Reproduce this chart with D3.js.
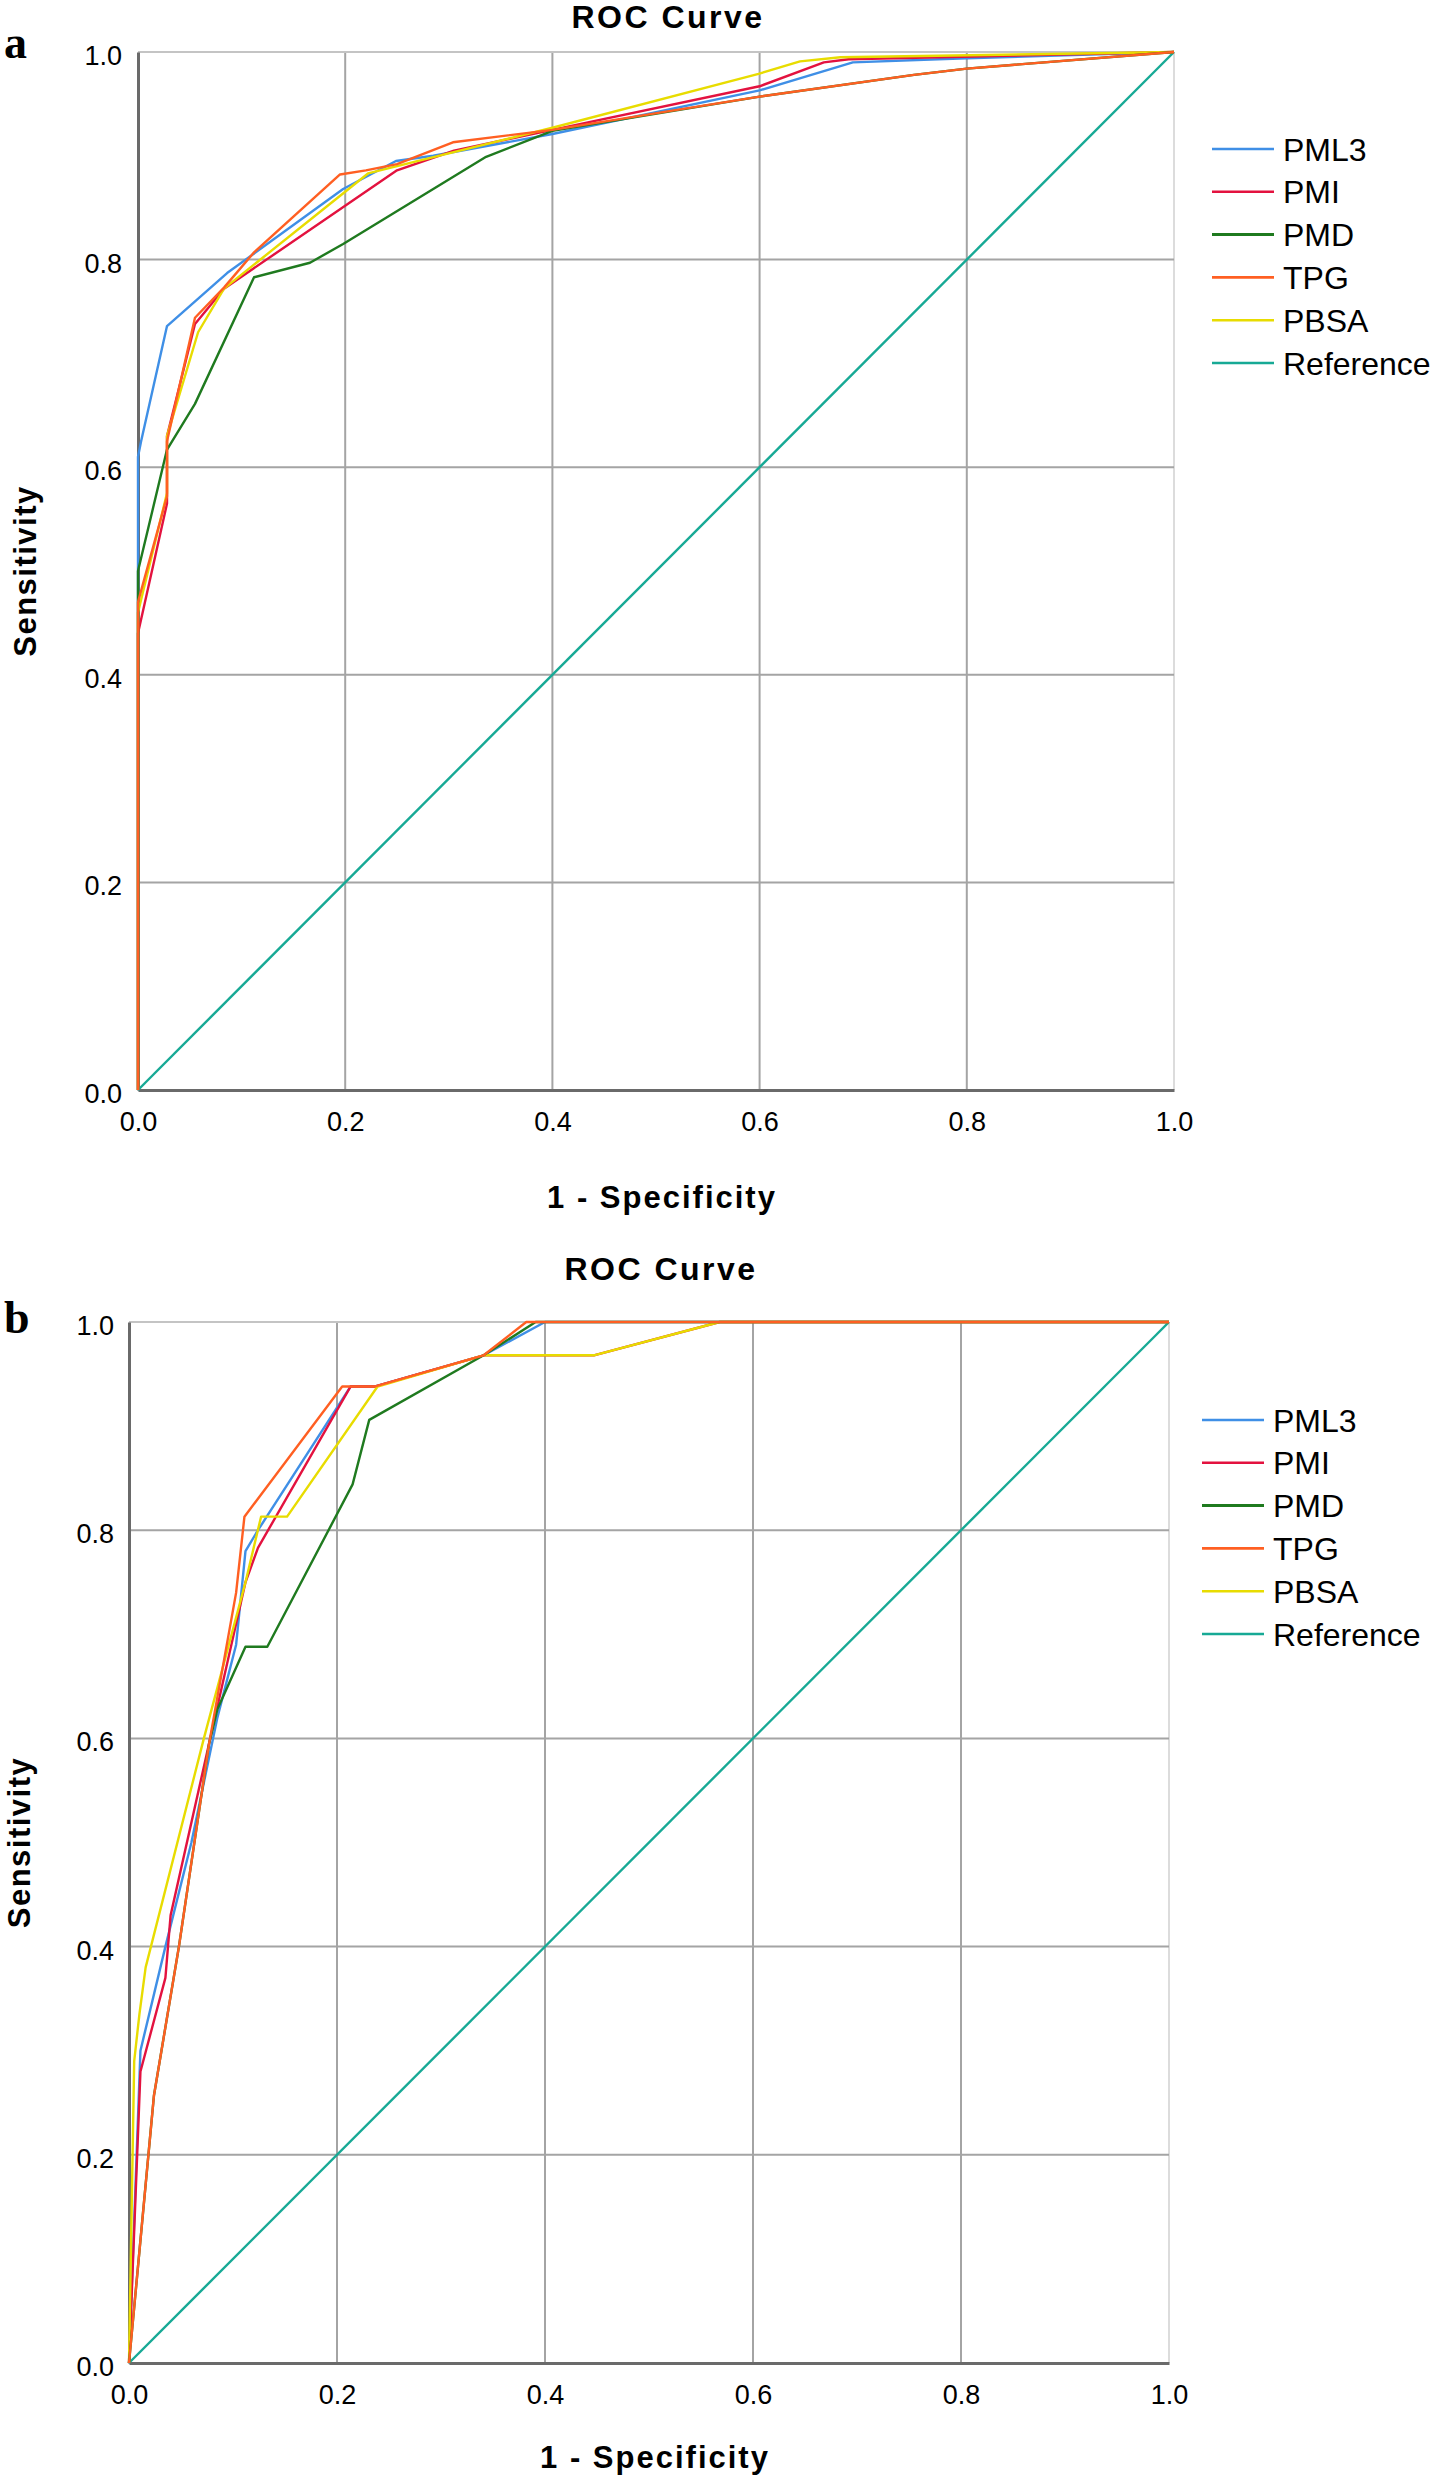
<!DOCTYPE html>
<html>
<head>
<meta charset="utf-8">
<script src="https://cdn.jsdelivr.net/npm/d3@7/dist/d3.min.js"></script>
<style>
  html, body { margin: 0; padding: 0; background: #fff; }
  svg { display: block; }
</style>
</head>
<body>
<svg id="chart" width="1430" height="2480"></svg>
<script>
// ---------- DATA ----------
const seriesNames = ["PML3", "PMI", "PMD", "TPG", "PBSA", "Reference"];
const seriesColors = ["#3f8fe6", "#e3123f", "#1f7a1f", "#ff5f22", "#e8dc00", "#17a995"];
const tickValues = [0, 0.2, 0.4, 0.6, 0.8, 1.0];
const tickLabels = ["0.0", "0.2", "0.4", "0.6", "0.8", "1.0"];

// Panel a: [1 - specificity, sensitivity]
const aPML3 = [[0,0],[0,0.61],[0.003,0.625],[0.028,0.736],[0.086,0.787],[0.198,0.868],[0.249,0.895],[0.285,0.900],[0.4,0.921],[0.6,0.963],[0.69,0.990],[0.8,0.994],[1,1]];
const aPMI  = [[0,0],[0,0.44],[0.028,0.565],[0.028,0.630],[0.055,0.738],[0.083,0.772],[0.25,0.886],[0.305,0.905],[0.4,0.925],[0.6,0.967],[0.662,0.990],[0.686,0.993],[1,1]];
const aPMD  = [[0,0],[0,0.50],[0.028,0.617],[0.055,0.661],[0.112,0.783],[0.166,0.797],[0.198,0.815],[0.336,0.899],[0.4,0.924],[0.6,0.957],[0.749,0.978],[0.8,0.984],[1,1]];
const aTPG  = [[0,0],[0,0.47],[0.028,0.572],[0.028,0.625],[0.055,0.744],[0.083,0.773],[0.112,0.807],[0.195,0.882],[0.22,0.886],[0.25,0.892],[0.304,0.913],[0.4,0.925],[0.6,0.957],[0.749,0.978],[0.8,0.984],[1,1]];
const aPBSA = [[0,0],[0,0.46],[0.028,0.575],[0.028,0.630],[0.058,0.730],[0.083,0.772],[0.222,0.883],[0.25,0.890],[0.4,0.927],[0.599,0.979],[0.639,0.991],[0.678,0.995],[1,1]];
const aRef  = [[0,0],[1,1]];

// Panel b
const bPML3 = [[0,0],[0.011,0.30],[0.035,0.40],[0.06,0.50],[0.085,0.62],[0.103,0.69],[0.112,0.78],[0.124,0.80],[0.213,0.938],[0.236,0.938],[0.341,0.968],[0.4,1.0],[1,1]];
const bPMI  = [[0,0],[0.011,0.28],[0.035,0.37],[0.04,0.43],[0.077,0.595],[0.112,0.75],[0.124,0.783],[0.213,0.938],[0.236,0.938],[0.341,0.968],[0.447,0.968],[0.568,1.0],[1,1]];
const bPMD  = [[0,0],[0.024,0.257],[0.048,0.40],[0.077,0.595],[0.085,0.628],[0.112,0.688],[0.133,0.688],[0.215,0.844],[0.231,0.906],[0.341,0.968],[0.391,1.0],[1,1]];
const bTPG  = [[0,0],[0.024,0.257],[0.048,0.40],[0.077,0.595],[0.103,0.74],[0.111,0.813],[0.205,0.938],[0.236,0.938],[0.341,0.968],[0.382,1.0],[1,1]];
const bPBSA = [[0,0],[0.005,0.29],[0.01,0.335],[0.016,0.38],[0.072,0.60],[0.112,0.75],[0.127,0.813],[0.152,0.813],[0.239,0.938],[0.341,0.968],[0.447,0.968],[0.568,1.0],[1,1]];
const bRef  = [[0,0],[1,1]];

const panelA = [aPML3, aPMI, aPMD, aTPG, aPBSA, aRef];
const panelB = [bPML3, bPMI, bPMD, bTPG, bPBSA, bRef];

// ---------- DRAW ----------
const svg = d3.select("#chart");
const sansFont = "'Liberation Sans', Arial, sans-serif";

function drawPanel(opt) {
  const g = svg.append("g");
  const x = d3.scaleLinear().domain([0, 1]).range([opt.left, opt.right]);
  const y = d3.scaleLinear().domain([0, 1]).range([opt.bottom, opt.top]);

  // gridlines
  g.selectAll("line.vg").data(tickValues.slice(1)).enter().append("line")
    .attr("x1", d => x(d)).attr("x2", d => x(d))
    .attr("y1", y(1)).attr("y2", y(0))
    .attr("stroke", d => d === 1 ? "#dcdcdc" : "#a4a4a4").attr("stroke-width", 2);
  g.selectAll("line.hg").data(tickValues.slice(1)).enter().append("line")
    .attr("x1", x(0)).attr("x2", x(1))
    .attr("y1", d => y(d)).attr("y2", d => y(d))
    .attr("stroke", d => d === 1 ? "#c4c4c4" : "#a4a4a4").attr("stroke-width", 2);

  // axes
  const xAxis = d3.axisBottom(x).tickValues(tickValues).tickFormat((d, i) => tickLabels[i]).tickSize(0).tickPadding(opt.xPad);
  const yAxis = d3.axisLeft(y).tickValues(tickValues).tickFormat((d, i) => tickLabels[i]).tickSize(0).tickPadding(opt.yPad);
  const gx = g.append("g").attr("transform", `translate(0,${y(0)})`).call(xAxis);
  const gy = g.append("g").attr("transform", `translate(${x(0)},0)`).call(yAxis);
  [gx, gy].forEach(a => {
    a.select(".domain").attr("stroke", "#6a6a6a").attr("stroke-width", 3);
    a.selectAll("text").attr("font-family", sansFont).attr("font-size", 27).attr("fill", "#000");
  });
  gy.selectAll("text").attr("dy", "0.46em");

  // curves
  const line = d3.line().x(d => x(d[0])).y(d => y(d[1]));
  const drawOrder = [5, 0, 1, 4, 2, 3];
  drawOrder.forEach(i => {
    g.append("path").datum(opt.series[i])
      .attr("d", line)
      .attr("fill", "none")
      .attr("stroke", seriesColors[i])
      .attr("stroke-width", 2.4)
      .attr("stroke-linejoin", "round");
  });

  // title
  g.append("text").attr("x", (x(0) + x(1)) / 2 + 12).attr("y", opt.titleY)
    .attr("text-anchor", "middle").attr("font-family", sansFont)
    .attr("font-weight", "bold").attr("font-size", 32).attr("letter-spacing", 2.5).text("ROC Curve");
  // x title
  g.append("text").attr("x", (x(0) + x(1)) / 2 + 6).attr("y", opt.xTitleY)
    .attr("text-anchor", "middle").attr("font-family", sansFont)
    .attr("font-weight", "bold").attr("font-size", 31).attr("letter-spacing", 2).text("1 - Specificity");
  // y title
  g.append("text")
    .attr("transform", `translate(${opt.yTitleX},${(y(0) + y(1)) / 2}) rotate(-90)`)
    .attr("text-anchor", "middle").attr("font-family", sansFont)
    .attr("font-weight", "bold").attr("font-size", 31).attr("letter-spacing", 1.5).text("Sensitivity");
  // panel letter
  g.append("text").attr("x", 4).attr("y", opt.letterY)
    .attr("font-family", "'Liberation Serif', 'Times New Roman', serif")
    .attr("font-weight", "bold").attr("font-size", 46).text(opt.letter);

  // legend
  const lg = g.append("g").attr("transform", `translate(${opt.legendX},${opt.legendY})`);
  seriesNames.forEach((n, i) => {
    const row = lg.append("g").attr("transform", `translate(0,${i * 42.8})`);
    row.append("line").attr("x1", 0).attr("x2", 62).attr("y1", 0).attr("y2", 0)
      .attr("stroke", seriesColors[i]).attr("stroke-width", i === 2 ? 3 : 2.6);
    row.append("text").attr("x", 71).attr("y", 0).attr("dy", "0.36em")
      .attr("font-family", sansFont).attr("font-size", 32).text(n);
  });
}

drawPanel({
  series: panelA, letter: "a",
  left: 138, right: 1174, top: 52, bottom: 1090,
  xPad: 22, yPad: 16,
  titleY: 28, xTitleY: 1208, yTitleX: 36, letterY: 58,
  legendX: 1212, legendY: 149
});
drawPanel({
  series: panelB, letter: "b",
  left: 129, right: 1169, top: 1322, bottom: 2363,
  xPad: 22, yPad: 15,
  titleY: 1280, xTitleY: 2468, yTitleX: 30, letterY: 1333,
  legendX: 1202, legendY: 1420
});
</script>
</body>
</html>
